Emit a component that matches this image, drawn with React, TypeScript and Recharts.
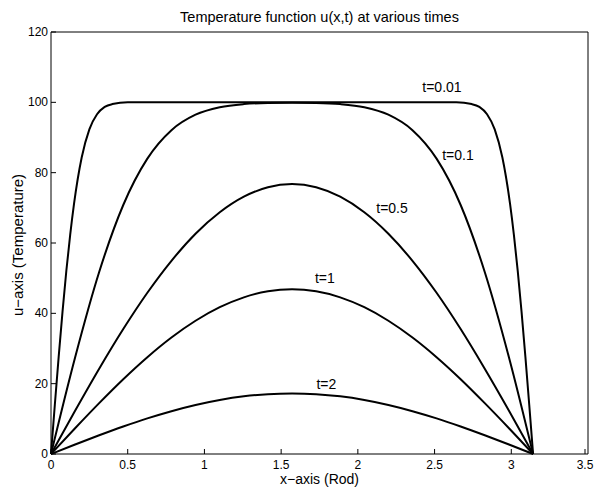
import { LineChart, Line, XAxis, YAxis, ReferenceDot } from 'recharts';

// --- Heat equation on a rod: u(x,t) ---
const xGrid = [
  0, 0.157, 0.314, 0.471, 0.628, 0.785, 0.942, 1.1, 1.257, 1.414, 1.571,
  1.728, 1.885, 2.042, 2.199, 2.356, 2.513, 2.67, 2.827, 2.985, 3.142,
];
const uT2 = [
  0, 2.69, 5.32, 7.82, 10.13, 12.18, 13.94, 15.35, 16.39, 17.02, 17.23,
  17.02, 16.39, 15.35, 13.94, 12.18, 10.13, 7.82, 5.32, 2.69, 0,
];
const uT1 = [
  0, 7.33, 14.47, 21.27, 27.53, 33.12, 37.89, 41.74, 44.55, 46.26, 46.84,
  46.26, 44.55, 41.74, 37.89, 33.12, 27.53, 21.27, 14.47, 7.33, 0,
];
const uT05 = [
  0, 12.29, 24.24, 35.52, 45.84, 54.93, 62.62, 68.73, 73.16, 75.85, 76.75,
  75.85, 73.16, 68.73, 62.62, 54.93, 45.84, 35.52, 24.24, 12.29, 0,
];
const uT01 = [
  0, 27.46, 51.76, 70.81, 83.99, 92.08, 96.48, 98.6, 99.5, 99.82, 99.89,
  99.82, 99.5, 98.6, 96.48, 92.08, 83.99, 70.81, 51.76, 27.46, 0,
];

// t=0.01 is steep near the ends, so it gets a finer grid there
const xFine = [
  0, 0.025, 0.05, 0.075, 0.1, 0.125, 0.15, 0.2, 0.25, 0.3, 0.35, 0.4, 0.5, 0.7,
  1.0, 1.571, 2.142, 2.442, 2.642, 2.742, 2.792, 2.842, 2.892, 2.942, 2.992,
  3.017, 3.042, 3.067, 3.092, 3.117, 3.142,
];
const uT001 = [
  0, 14.0, 27.6, 40.4, 52.1, 62.3, 71.1, 84.3, 92.3, 96.6, 98.7, 99.5, 100, 100,
  100, 100, 100, 100, 100, 99.5, 98.7, 96.6, 92.3, 84.3, 71.1,
  62.3, 52.1, 40.4, 27.6, 14.0, 0,
];

const xTicks = [0, 0.5, 1, 1.5, 2, 2.5, 3, 3.5];
const yTicks = [0, 20, 40, 60, 80, 100, 120];

const curveLabels = [
  { text: 't=0.01', x: 2.42, u: 104.5 },
  { text: 't=0.1', x: 2.55, u: 85 },
  { text: 't=0.5', x: 2.12, u: 70 },
  { text: 't=1', x: 1.72, u: 50 },
  { text: 't=2', x: 1.73, u: 20 },
];

const toPoints = (xs: number[], us: number[]) => xs.map((x, i) => ({ x, u: us[i] }));

const series = [
  toPoints(xFine, uT001),
  toPoints(xGrid, uT01),
  toPoints(xGrid, uT05),
  toPoints(xGrid, uT1),
  toPoints(xGrid, uT2),
];

const FONT = '"Liberation Sans", Arial, Helvetica, sans-serif';

const BottomTick = ({ x, y, payload }: any) => (
  <g>
    <line x1={x} y1={y} x2={x} y2={y - 5} stroke="#000" />
    <text x={x} y={y + 15} textAnchor="middle" fontSize={12} fontFamily={FONT} fill="#000">
      {String(payload.value)}
    </text>
  </g>
);

const LeftTick = ({ x, y, payload }: any) => (
  <g>
    <line x1={x} y1={y} x2={x + 5} y2={y} stroke="#000" />
    <text x={x - 3} y={y + 4} textAnchor="end" fontSize={12} fontFamily={FONT} fill="#000">
      {String(payload.value)}
    </text>
  </g>
);

const TopTick = ({ x, y }: any) => <line x1={x} y1={y} x2={x} y2={y + 5} stroke="#000" />;
const RightTick = ({ x, y }: any) => <line x1={x} y1={y} x2={x - 5} y2={y} stroke="#000" />;

export default function App() {
  return (
    <div style={{ position: 'absolute', left: 0, top: 0, width: 595, height: 487, background: '#fff' }}>
      <LineChart
        width={595}
        height={487}
        margin={{ top: 32, right: 7, bottom: 3, left: 11 }}
        style={{ fontFamily: FONT }}
      >
        <XAxis
          type="number"
          dataKey="x"
          domain={[0, 3.5]}
          ticks={xTicks}
          height={30}
          tickSize={0}
          tickMargin={0}
          tick={BottomTick}
          tickLine={false}
          axisLine={{ stroke: '#000' }}
        />
        <XAxis
          xAxisId="top"
          orientation="top"
          type="number"
          dataKey="x"
          domain={[0, 3.5]}
          ticks={xTicks}
          mirror
          height={1}
          tickSize={0}
          tickMargin={0}
          tick={TopTick}
          tickLine={false}
          axisLine={{ stroke: '#000' }}
        />
        <YAxis
          type="number"
          domain={[0, 120]}
          ticks={yTicks}
          width={40}
          tickSize={0}
          tickMargin={0}
          tick={LeftTick}
          tickLine={false}
          axisLine={{ stroke: '#000' }}
        />
        <YAxis
          yAxisId="right"
          orientation="right"
          type="number"
          domain={[0, 120]}
          ticks={yTicks}
          mirror
          width={1}
          tickSize={0}
          tickMargin={0}
          tick={RightTick}
          tickLine={false}
          axisLine={{ stroke: '#000' }}
        />
        {series.map((pts, i) => (
          <Line
            key={i}
            data={pts}
            dataKey="u"
            type="monotone"
            stroke="#000"
            strokeWidth={2}
            dot={false}
            activeDot={false}
            isAnimationActive={false}
          />
        ))}
        {curveLabels.map((c) => (
          <ReferenceDot
            key={c.text}
            x={c.x}
            y={c.u}
            r={0}
            shape={(p: any) => (
              <text x={p.cx} y={p.cy + 5} fontSize={14} fontFamily={FONT} fill="#000">
                {c.text}
              </text>
            )}
          />
        ))}
        <text x={319.5} y={22} textAnchor="middle" fontSize={14.5} fontFamily={FONT} fill="#000">
          Temperature function u(x,t) at various times
        </text>
        <text x={319.5} y={484} textAnchor="middle" fontSize={14} fontFamily={FONT} fill="#000">
          {'x\u2212axis (Rod)'}
        </text>
        <text
          x={18}
          y={245}
          transform="rotate(-90 18 245)"
          textAnchor="middle"
          dy="0.35em"
          fontSize={15}
          fontFamily={FONT}
          fill="#000"
        >
          {'u\u2212axis (Temperature)'}
        </text>
      </LineChart>
    </div>
  );
}
